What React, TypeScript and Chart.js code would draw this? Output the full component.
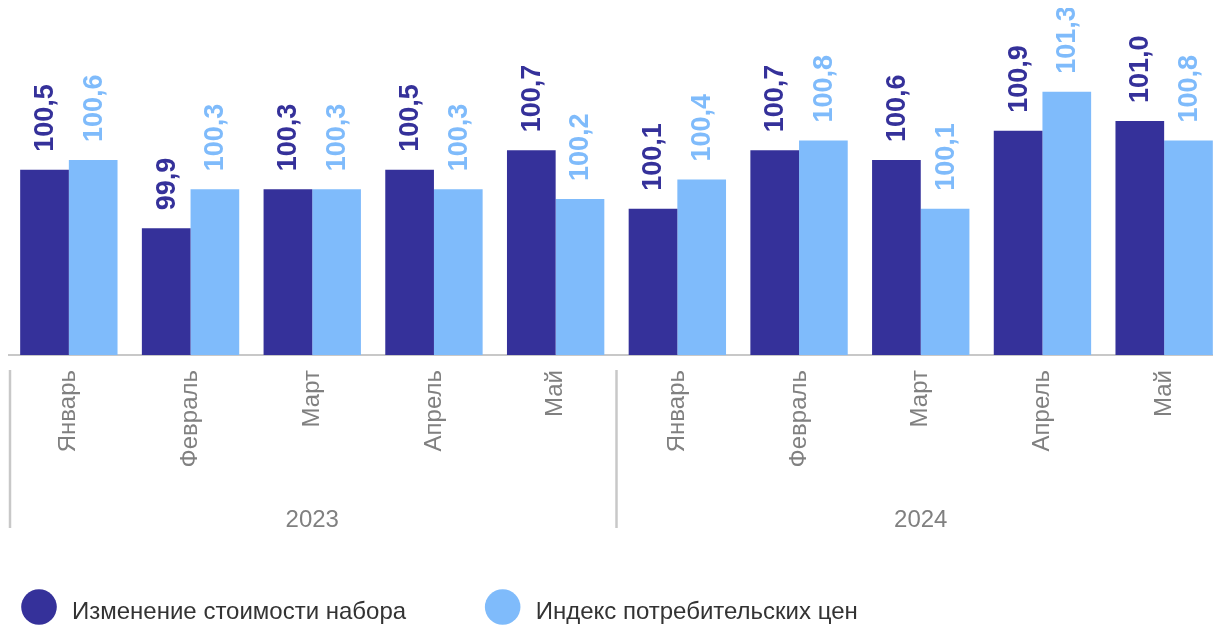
import React, { useEffect, useRef } from "react";
import { Chart, registerables } from "chart.js";

Chart.register(...registerables);

const months = ["Январь", "Февраль", "Март", "Апрель", "Май", "Январь", "Февраль", "Март", "Апрель", "Май"];
const years = ["2023", "2024"];
const monthsPerYear = 5;
const basketChange = [100.5, 99.9, 100.3, 100.5, 100.7, 100.1, 100.7, 100.6, 100.9, 101.0];
const cpi = [100.6, 100.3, 100.3, 100.3, 100.2, 100.4, 100.8, 100.1, 101.3, 100.8];
const seriesNames = ["Изменение стоимости набора", "Индекс потребительских цен"];
const seriesColors = ["#35319a", "#7fbbfb"];

const FONT = "'Liberation Sans', Arial, Helvetica, sans-serif";

const fmt = (v: number) => v.toFixed(1).replace(".", ",");

const dataLabelsPlugin = {
  id: "rotatedDataLabels",
  afterDatasetsDraw(chart: any) {
    const ctx = chart.ctx;
    chart.data.datasets.forEach((ds: any, di: number) => {
      const meta = chart.getDatasetMeta(di);
      meta.data.forEach((bar: any, i: number) => {
        const v = ds.data[i];
        ctx.save();
        ctx.translate(bar.x, bar.y - 18);
        ctx.rotate(-Math.PI / 2);
        ctx.font = `bold 27px ${FONT}`;
        ctx.fillStyle = ds.backgroundColor;
        ctx.textAlign = "left";
        ctx.textBaseline = "middle";
        ctx.fillText(fmt(v), 0, 1);
        ctx.restore();
      });
    });
  },
};

const groupAxisPlugin = {
  id: "groupAxis",
  afterDraw(chart: any) {
    const ctx = chart.ctx;
    const xs = chart.scales.x;
    const bottom = chart.chartArea.bottom;
    const band = xs.getPixelForValue(1) - xs.getPixelForValue(0);
    ctx.save();
    years.forEach((y, g) => {
      const first = g * monthsPerYear;
      const last = first + monthsPerYear - 1;
      let sx = xs.getPixelForValue(first) - band / 2;
      if (sx < 2) sx = 2;
      ctx.strokeStyle = "#c8c8c8";
      ctx.lineWidth = 2.5;
      ctx.beginPath();
      ctx.moveTo(sx, bottom + 15);
      ctx.lineTo(sx, bottom + 173);
      ctx.stroke();
      const cx = (xs.getPixelForValue(first) + xs.getPixelForValue(last)) / 2;
      ctx.font = `24px ${FONT}`;
      ctx.fillStyle = "#808080";
      ctx.textAlign = "center";
      ctx.textBaseline = "alphabetic";
      ctx.fillText(y, cx, bottom + 172);
    });
    ctx.restore();

    // legend
    ctx.save();
    ctx.font = `24px ${FONT}`;
    let x = 31;
    const cy = 599;
    chart.data.datasets.forEach((ds: any) => {
      ctx.fillStyle = ds.backgroundColor;
      ctx.beginPath();
      ctx.arc(x, cy, 17.8, 0, Math.PI * 2);
      ctx.fill();
      ctx.fillStyle = "#333333";
      ctx.textAlign = "left";
      ctx.textBaseline = "alphabetic";
      const tx = x + 33;
      ctx.fillText(ds.label, tx, 611.3);
      x = tx + ctx.measureText(ds.label).width + 96.5;
    });
    ctx.restore();
  },
};

export default function App() {
  const ref = useRef<HTMLCanvasElement>(null);
  useEffect(() => {
    document.body.style.margin = "0";
    if (!ref.current) return;
    Chart.defaults.font.family = FONT;
    const chart = new Chart(ref.current, {
      type: "bar",
      data: {
        labels: months,
        datasets: [
          { label: seriesNames[0], data: basketChange, backgroundColor: seriesColors[0] },
          { label: seriesNames[1], data: cpi, backgroundColor: seriesColors[1] },
        ],
      },
      options: {
        responsive: false,
        animation: false,
        events: [],
        layout: { padding: { top: 15.5, bottom: 80, left: 0, right: 0 } },
        datasets: { bar: { barPercentage: 1, categoryPercentage: 0.8 } },
        plugins: { legend: { display: false }, tooltip: { enabled: false }, title: { display: false } },
        scales: {
          x: {
            grid: { display: false, drawTicks: false },
            border: { display: true, color: "#c8c8c8", width: 2 },
            ticks: {
              autoSkip: false,
              minRotation: 90,
              maxRotation: 90,
              padding: 15,
              color: "#808080",
              font: { size: 24, family: FONT },
            },
            afterFit: (scale: any) => {
              scale.height = 190;
            },
          },
          y: { display: false, min: 98.6, max: 102.0 },
        },
      },
      plugins: [dataLabelsPlugin, groupAxisPlugin],
    } as any);
    return () => chart.destroy();
  }, []);
  return (
    <div style={{ width: 1213, height: 625, overflow: "hidden", position: "relative" }}>
      <canvas
        ref={ref}
        width={1217}
        height={617}
        style={{ display: "block", position: "absolute", left: 8, top: 8 }}
      />
    </div>
  );
}
